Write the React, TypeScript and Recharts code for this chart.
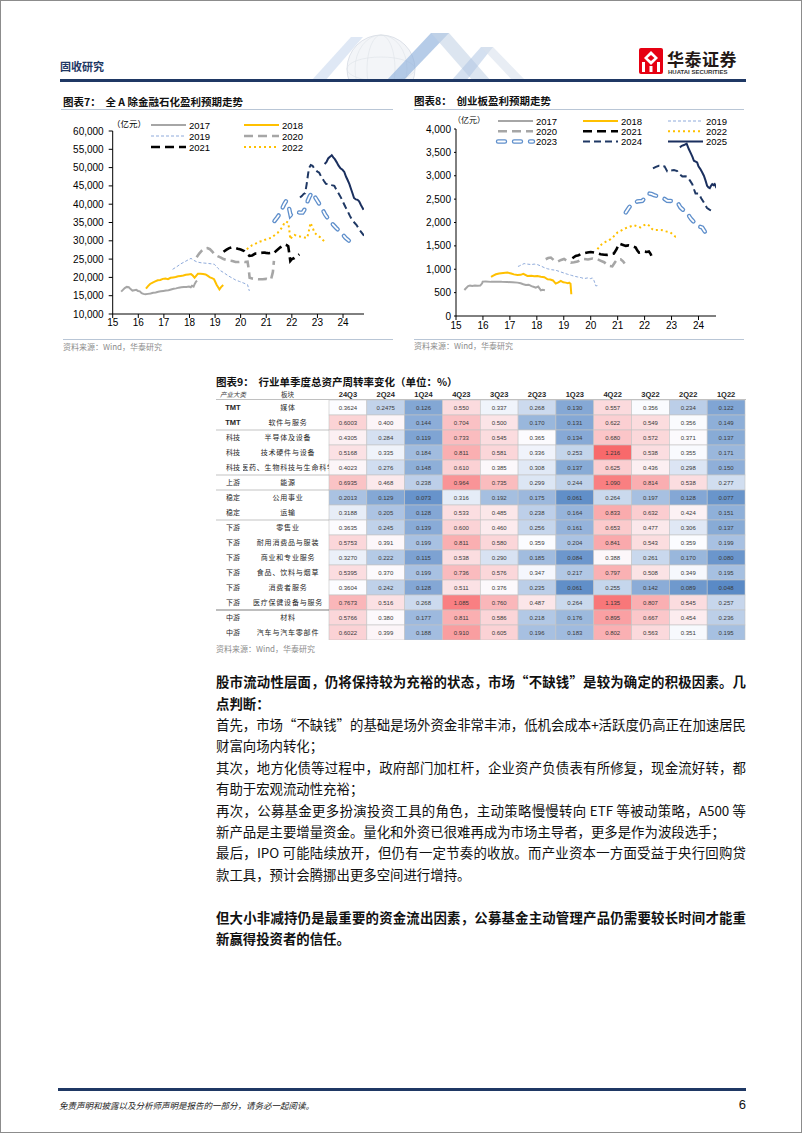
import React from 'react';
import { LineChart, Line, XAxis, YAxis, BarChart, Bar } from 'recharts';

const CJK = '"Noto Sans CJK SC", sans-serif';
const LAT = '"Liberation Sans", Arial, sans-serif';

type Pt = [number, number];

// ---- 图表7 全A除金融石化 (亿元), x = 年份(15 = 2015)
const yearTicks = [15, 16, 17, 18, 19, 20, 21, 22, 23, 24];
const ticks7 = [10000, 15000, 20000, 25000, 30000, 35000, 40000, 45000, 50000, 55000, 60000];
const a17_7: Pt[] = [[15.33,16100],[15.4,16600],[15.47,17100],[15.55,17400],[15.63,17300],[15.7,16800],[15.77,16400],[15.84,16500],[15.92,16600],[15.99,16300],[16.06,16200],[16.13,15700],[16.2,15500],[16.28,15400],[16.38,15500],[16.48,15600],[16.58,15800],[16.68,15900],[16.78,16100],[16.88,16200],[16.98,16300],[17.08,16400],[17.18,16500],[17.28,16700],[17.38,16900],[17.48,17000],[17.58,17200],[17.68,17300],[17.78,17400],[17.88,17400],[17.98,17500],[18.05,17300],[18.1,17700],[18.16,17500],[18.21,18300],[18.26,18900],[18.3,19100]];
const a18_7: Pt[] = [[16.3,16900],[16.38,17600],[16.46,18200],[16.56,18600],[16.66,18900],[16.76,19200],[16.86,19300],[16.96,19600],[17.06,19700],[17.16,19500],[17.26,19900],[17.36,20000],[17.46,20100],[17.56,20300],[17.66,20400],[17.76,20500],[17.86,20700],[17.96,20800],[18.06,20900],[18.13,20500],[18.2,19900],[18.26,20400],[18.33,21000],[18.43,21000],[18.53,20900],[18.63,20800],[18.72,20400],[18.8,20000],[18.88,19800],[18.96,19500],[19.02,18600],[19.06,18000],[19.12,17300],[19.17,16700],[19.22,17200],[19.27,17600],[19.32,17900]];
const a19_7: Pt[] = [[17.34,22200],[17.5,22900],[17.66,23700],[17.82,24300],[17.95,24800],[18.06,25200],[18.16,24700],[18.3,24200],[18.45,24000],[18.6,23900],[18.75,23800],[18.97,23600],[19.1,22600],[19.22,21800],[19.36,21200],[19.5,20500],[19.65,19900],[19.8,19300],[19.95,18900],[20.1,18500],[20.27,18000],[20.31,17000],[20.34,16300]];
const a20_7: Pt[] = [[18.28,25500],[18.38,26500],[18.48,27300],[18.58,27900],[18.7,28000],[18.8,27700],[18.9,27000],[18.97,26300],[19.1,25800],[19.23,25400],[19.33,25000],[19.43,24800],[19.55,24600],[19.68,24500],[19.8,24200],[19.94,24200],[20.06,24300],[20.16,24200],[20.27,24300],[20.32,22000],[20.35,19900],[20.45,19700],[20.55,19600],[20.7,19500],[20.86,19500],[21.0,19600],[21.1,19400],[21.19,19500],[21.26,21500],[21.3,24500]];
const a21_7: Pt[] = [[19.33,27000],[19.45,27600],[19.55,28000],[19.65,28200],[19.75,28100],[19.89,27800],[20.0,27600],[20.14,27200],[20.24,26600],[20.34,25900],[20.45,26000],[20.57,26500],[20.67,26500],[20.8,26700],[20.92,26800],[20.99,26700],[21.1,26600],[21.2,26700],[21.26,26500],[21.35,27000],[21.45,27600],[21.55,28200],[21.65,28700],[21.73,29000],[21.8,28800],[21.86,28500],[21.9,26500],[21.94,24500],[22.0,25000],[22.1,25300],[22.2,25800],[22.29,26300]];
const a22_7: Pt[] = [[20.24,27700],[20.35,28300],[20.45,28800],[20.54,29000],[20.65,29500],[20.76,29800],[20.86,29900],[20.96,30300],[21.07,30600],[21.19,30800],[21.3,31400],[21.45,32200],[21.55,33000],[21.63,33800],[21.71,34900],[21.78,35300],[21.86,34900],[21.9,33000],[21.94,30400],[22.02,31200],[22.1,31600],[22.2,31300],[22.3,31200],[22.4,31000],[22.5,30900],[22.6,30800],[22.66,32500],[22.73,34900],[22.8,33800],[22.89,32200],[23.0,31500],[23.1,31000],[23.2,30300],[23.3,29700],[23.35,29500]];
const a23_7: Pt[] = [[21.32,35400],[21.42,36300],[21.51,37200],[21.6,38500],[21.7,40000],[21.78,40900],[21.85,40000],[21.9,38600],[21.95,37000],[22.02,37500],[22.1,37700],[22.2,37900],[22.3,37700],[22.42,37700],[22.52,38800],[22.62,40900],[22.7,42200],[22.79,43200],[22.9,42000],[23.0,40900],[23.08,40000],[23.18,38800],[23.3,37200],[23.4,36200],[23.47,35600],[23.6,34500],[23.72,33600],[23.86,32700],[23.98,31800],[24.1,30800],[24.25,29900],[24.32,30500]];
const a24_7: Pt[] = [[22.32,41800],[22.4,42300],[22.46,42800],[22.52,43000],[22.58,45500],[22.64,48500],[22.68,50000],[22.74,50700],[22.81,50500],[22.9,49500],[23.0,48900],[23.07,48600],[23.15,47500],[23.25,46400],[23.33,45600],[23.45,45500],[23.56,45200],[23.66,45000],[23.75,43800],[23.84,42800],[23.92,41800],[24.0,40600],[24.09,39300],[24.18,38100],[24.27,36800],[24.36,35600],[24.44,35000],[24.53,34300],[24.62,33200],[24.72,32300],[24.82,31400]];
const a25_7: Pt[] = [[23.28,51000],[23.35,51500],[23.42,52500],[23.5,53000],[23.56,53400],[23.62,52800],[23.68,52300],[23.75,51500],[23.82,50600],[23.9,49800],[23.98,49400],[24.05,48800],[24.12,47500],[24.18,46600],[24.25,45500],[24.32,44000],[24.38,42800],[24.43,41700],[24.5,41300],[24.57,41200],[24.63,40800],[24.7,39800],[24.76,39000],[24.8,38500]];

// ---- 图表8 创业板 (亿元)
const ticks8 = [0, 500, 1000, 1500, 2000, 2500, 3000, 3500, 4000];
const a17_8: Pt[] = [[15.31,557],[15.38,600],[15.45,640],[15.52,650],[15.6,640],[15.7,650],[15.8,645],[15.9,650],[15.97,700],[15.99,736],[16.1,740],[16.3,730],[16.5,735],[16.7,730],[16.9,728],[17.1,720],[17.28,714],[17.4,700],[17.5,680],[17.59,664],[17.7,670],[17.8,640],[17.9,620],[17.96,607],[18.05,630],[18.1,590],[18.15,550],[18.22,560],[18.3,550]];
const a18_8: Pt[] = [[16.3,836],[16.4,870],[16.48,893],[16.6,910],[16.75,920],[16.91,929],[17.05,910],[17.15,890],[17.28,879],[17.4,880],[17.5,900],[17.65,857],[17.8,860],[17.9,850],[18.02,857],[18.15,840],[18.28,830],[18.4,786],[18.5,780],[18.6,760],[18.7,693],[18.8,720],[18.89,750],[18.98,720],[19.07,714],[19.15,700],[19.2,714],[19.25,690],[19.28,465]];
const a19_8: Pt[] = [[17.3,1060],[17.35,1071],[17.45,1100],[17.53,1121],[17.65,1110],[17.8,1100],[17.9,1110],[18.02,1100],[18.15,1070],[18.27,1036],[18.4,1010],[18.55,990],[18.7,979],[18.85,950],[19.0,920],[19.14,893],[19.28,870],[19.4,850],[19.51,836],[19.65,820],[19.75,800],[19.88,814],[20.0,800],[20.06,814],[20.12,760],[20.19,643],[20.25,650]];
const a20_8: Pt[] = [[18.33,1214],[18.42,1240],[18.52,1250],[18.62,1200],[18.77,1164],[18.9,1200],[19.01,1221],[19.12,1180],[19.26,1143],[19.38,1150],[19.51,1164],[19.62,1200],[19.75,1221],[19.9,1210],[20.06,1229],[20.18,1210],[20.25,1214],[20.38,1180],[20.5,1150],[20.6,1100],[20.68,1071],[20.8,1060],[20.9,1150],[20.99,1214],[21.11,1214],[21.2,1170],[21.26,1121]];
const a21_8: Pt[] = [[19.32,1236],[19.44,1286],[19.55,1300],[19.63,1322],[19.75,1340],[19.88,1357],[20.0,1370],[20.12,1357],[20.25,1340],[20.37,1322],[20.5,1310],[20.62,1307],[20.75,1320],[20.86,1336],[20.96,1429],[21.05,1550],[21.15,1530],[21.3,1500],[21.4,1510],[21.48,1500],[21.6,1480],[21.67,1464],[21.73,1400],[21.79,1357],[21.9,1370],[21.98,1379],[22.08,1370],[22.16,1379],[22.22,1330],[22.29,1243]];
const a22_8: Pt[] = [[20.25,1429],[20.35,1500],[20.42,1540],[20.5,1571],[20.6,1600],[20.74,1643],[20.85,1700],[20.99,1786],[21.1,1820],[21.2,1850],[21.3,1879],[21.45,1910],[21.6,1943],[21.72,1920],[21.85,1893],[21.97,1940],[22.1,1964],[22.2,1920],[22.28,1860],[22.35,1836],[22.5,1840],[22.66,1836],[22.8,1810],[22.96,1786],[23.05,1740],[23.15,1693],[23.27,1690]];
const a23_8: Pt[] = [[21.3,2214],[21.42,2321],[21.55,2400],[21.73,2450],[21.91,2460],[22.02,2530],[22.16,2621],[22.25,2610],[22.35,2586],[22.5,2560],[22.66,2536],[22.84,2464],[23.0,2460],[23.15,2450],[23.25,2400],[23.33,2321],[23.45,2260],[23.58,2214],[23.66,2130],[23.73,2072],[23.85,2000],[23.95,1929],[24.05,1910],[24.14,1893],[24.22,1820],[24.3,1750]];
const a24_8: Pt[] = [[22.31,3157],[22.42,3190],[22.53,3214],[22.64,3210],[22.74,3200],[22.84,3093],[22.96,3110],[23.09,3121],[23.21,3100],[23.3,3030],[23.4,2986],[23.5,2990],[23.58,2980],[23.68,2900],[23.77,2821],[23.84,2700],[23.89,2621],[24.01,2620],[24.1,2520],[24.2,2429],[24.32,2307],[24.42,2270],[24.51,2250],[24.6,2260]];
const a25_8: Pt[] = [[23.31,3607],[23.38,3640],[23.46,3657],[23.56,3686],[23.64,3571],[23.73,3464],[23.78,3400],[23.83,3321],[23.95,3286],[24.0,3200],[24.07,3143],[24.14,3070],[24.2,3000],[24.26,2900],[24.32,2786],[24.37,2750],[24.42,2736],[24.47,2790],[24.51,2821],[24.56,2800],[24.6,2821],[24.67,2736]];

// ---- 图表9 行业单季度总资产周转率
const quarters = ['24Q3', '2Q24', '1Q24', '4Q23', '3Q23', '2Q23', '1Q23', '4Q22', '3Q22', '2Q22', '1Q22'];
const groups = ['TMT', 'TMT', '科技', '科技', '科技', '上游', '稳定', '稳定', '下游', '下游', '下游', '下游', '下游', '下游', '中游', '中游'];
const sectors = ['媒体', '软件与服务', '半导体及设备', '技术硬件与设备', '医药、生物科技与生命科学', '能源', '公用事业', '运输', '零售业', '耐用消费品与服装', '商业和专业服务', '食品、饮料与烟草', '消费者服务', '医疗保健设备与服务', '材料', '汽车与汽车零部件'];
const turnover: number[][] = [
  [0.3624, 0.2475, 0.126, 0.550, 0.337, 0.268, 0.130, 0.557, 0.356, 0.234, 0.122],
  [0.6003, 0.400, 0.144, 0.704, 0.500, 0.170, 0.131, 0.622, 0.549, 0.356, 0.149],
  [0.4305, 0.284, 0.119, 0.733, 0.545, 0.365, 0.134, 0.680, 0.572, 0.371, 0.137],
  [0.5168, 0.335, 0.184, 0.811, 0.581, 0.336, 0.253, 1.216, 0.538, 0.355, 0.171],
  [0.4023, 0.276, 0.148, 0.610, 0.385, 0.308, 0.137, 0.625, 0.436, 0.298, 0.150],
  [0.6935, 0.468, 0.238, 0.964, 0.735, 0.299, 0.244, 1.090, 0.814, 0.538, 0.277],
  [0.2013, 0.129, 0.073, 0.316, 0.192, 0.175, 0.061, 0.264, 0.197, 0.128, 0.077],
  [0.3188, 0.205, 0.128, 0.533, 0.485, 0.238, 0.164, 0.833, 0.632, 0.424, 0.151],
  [0.3635, 0.245, 0.139, 0.600, 0.460, 0.256, 0.161, 0.653, 0.477, 0.306, 0.137],
  [0.5753, 0.391, 0.199, 0.811, 0.580, 0.359, 0.204, 0.841, 0.543, 0.359, 0.199],
  [0.3270, 0.222, 0.115, 0.538, 0.290, 0.185, 0.084, 0.388, 0.261, 0.170, 0.080],
  [0.5395, 0.370, 0.199, 0.736, 0.576, 0.347, 0.217, 0.797, 0.508, 0.349, 0.195],
  [0.3604, 0.242, 0.128, 0.511, 0.376, 0.235, 0.061, 0.255, 0.142, 0.089, 0.048],
  [0.7673, 0.516, 0.268, 1.085, 0.760, 0.487, 0.264, 1.135, 0.807, 0.545, 0.257],
  [0.5766, 0.380, 0.177, 0.811, 0.586, 0.218, 0.176, 0.895, 0.667, 0.454, 0.236],
  [0.6022, 0.399, 0.188, 0.910, 0.605, 0.196, 0.183, 0.802, 0.563, 0.351, 0.195],
];

type Sty = { c: string; w: number; d?: string; pill?: boolean };
const STY: Record<string, Sty> = {
  '2017': { c: '#A6A6A6', w: 2 },
  '2018': { c: '#FFC000', w: 2 },
  '2019': { c: '#8EAADB', w: 1, d: '3 2' },
  '2020': { c: '#A6A6A6', w: 2.6, d: '9 5' },
  '2021': { c: '#000000', w: 2.6, d: '9 5' },
  '2022': { c: '#FFC000', w: 2, d: '2 3' },
  '2023': { c: '#5F8FCB', w: 4.4, d: '7 9', pill: true },
  '2024': { c: '#1F3864', w: 2, d: '7 4' },
  '2025': { c: '#1A2F5E', w: 2 },
};

const seriesLines = (name: string, pts: Pt[]) => {
  const s = STY[name];
  const data = pts.map(([x, y]) => ({ x, y }));
  const out = [
    <Line key={name} data={data} dataKey="y" type="linear" stroke={s.c} strokeWidth={s.w}
      strokeDasharray={s.d} strokeLinecap={s.pill ? 'round' : 'butt'} dot={false} isAnimationActive={false} />,
  ];
  if (s.pill) {
    out.push(
      <Line key={name + 'in'} data={data} dataKey="y" type="linear" stroke="#ffffff" strokeWidth={s.w - 2.6}
        strokeDasharray={s.d} strokeLinecap="round" dot={false} isAnimationActive={false} />
    );
  }
  return out;
};

const LegendItem = ({ name, x, y }: { name: string; x: number; y: number }) => {
  const s = STY[name];
  return (
    <g>
      <line x1={x} y1={y} x2={x + 35} y2={y} stroke={s.c} strokeWidth={s.w} strokeDasharray={s.d}
        strokeLinecap={s.pill ? 'round' : 'butt'} />
      {s.pill && <line x1={x} y1={y} x2={x + 35} y2={y} stroke="#fff" strokeWidth={s.w - 2.6}
        strokeDasharray={s.d} strokeLinecap="round" />}
      <text x={x + 38} y={y + 3.5} fontSize={9.5} fontFamily={LAT} fill="#000">{name}</text>
    </g>
  );
};

const fmtK = (v: number) => v.toLocaleString('en-US');
const axisTick = { fontSize: 10, fill: '#000', fontFamily: LAT };

// heat colour: blue - white - red
const LO = 0.048, MID = 0.36, HI = 1.216;
const mix = (a: number[], b: number[], t: number) =>
  `rgb(${a.map((v, i) => Math.round(v + (b[i] - v) * t)).join(',')})`;
const heat = (v: number) => {
  const blue = [90, 138, 198], white = [252, 252, 255], red = [248, 105, 107];
  if (v <= MID) return mix(white, blue, Math.min(1, (MID - v) / (MID - LO)));
  return mix(white, red, Math.min(1, (v - MID) / (HI - MID)));
};
const fmtCell = (v: number, c: number) => {
  const dec = (String(v).split('.')[1] || '').length;
  return c === 0 || dec > 3 ? v.toFixed(4) : v.toFixed(3);
};

const ROW_H = 15;
const tableRows = sectors.map((s, r) => {
  const row: Record<string, any> = { sector: s, row: r };
  quarters.forEach((q) => { row[q] = 1; });
  return row;
});

const QuarterTick = (p: any) => (
  <text x={p.x} y={8.5} textAnchor="middle" fontSize={7.5} fontWeight={700} fontFamily={LAT} fill="#262626">
    {quarters[Math.floor(p.payload.value)]}
  </text>
);

const RowTick = (p: any) => {
  const r = sectors.indexOf(p.payload.value);
  const y = p.y;
  const newGroup = r > 0 && groups[r] !== groups[r - 1];
  const isLat = /^[A-Z]+$/.test(groups[r]);
  return (
    <g>
      {newGroup && (
        <line x1={0} x2={113} y1={y - ROW_H / 2} y2={y - ROW_H / 2}
          stroke={groups[r] === '中游' ? '#7f7f7f' : '#b4b4b4'} strokeWidth={groups[r] === '中游' ? 1.2 : 0.8} />
      )}
      <text x={17} y={y + 2.5} textAnchor="middle" fontSize={isLat ? 7.5 : 7} fontWeight={isLat ? 700 : 400}
        fontFamily={isLat ? LAT : CJK} fill="#262626">{groups[r]}</text>
      <clipPath id={`sc${r}`}><rect x={27} y={y - 8} width={86} height={16} /></clipPath>
      <text x={72} y={y + 2.5} textAnchor="middle" fontSize={7} fontFamily={CJK} fill="#262626"
        letterSpacing={0.8} clipPath={`url(#sc${r})`}>{sectors[r]}</text>
    </g>
  );
};

const heatShape = (c: number) => (p: any) => {
  const v = turnover[p.payload.row][c];
  return (
    <g>
      <rect x={p.x} y={p.y} width={p.width} height={p.height} fill={heat(v)} stroke="#c4c4c4" strokeWidth={0.6} />
      <text x={p.x + p.width / 2} y={p.y + p.height / 2 + 2.2} textAnchor="middle" fontSize={6}
        fontFamily={LAT} fill="#3a3a3a">{fmtCell(v, c)}</text>
    </g>
  );
};

const abs = (left: number, top: number, extra: React.CSSProperties = {}): React.CSSProperties => ({
  position: 'absolute', left, top, ...extra,
});

const bodyLines: { t: string; b: boolean; j: boolean }[] = [
  { t: '股市流动性层面，仍将保持较为充裕的状态，市场“不缺钱”是较为确定的积极因素。几', b: true, j: true },
  { t: '点判断：', b: true, j: false },
  { t: '首先，市场“不缺钱”的基础是场外资金非常丰沛，低机会成本+活跃度仍高正在加速居民', b: false, j: true },
  { t: '财富向场内转化；', b: false, j: false },
  { t: '其次，地方化债等过程中，政府部门加杠杆，企业资产负债表有所修复，现金流好转，都', b: false, j: true },
  { t: '有助于宏观流动性充裕；', b: false, j: false },
  { t: '再次，公募基金更多扮演投资工具的角色，主动策略慢慢转向 ETF 等被动策略，A500 等', b: false, j: true },
  { t: '新产品是主要增量资金。量化和外资已很难再成为市场主导者，更多是作为波段选手；', b: false, j: false },
  { t: '最后，IPO 可能陆续放开，但仍有一定节奏的收放。而产业资本一方面受益于央行回购贷', b: false, j: true },
  { t: '款工具，预计会腾挪出更多空间进行增持。', b: false, j: false },
  { t: '', b: false, j: false },
  { t: '但大小非减持仍是最重要的资金流出因素，公募基金主动管理产品仍需要较长时间才能重', b: true, j: true },
  { t: '新赢得投资者的信任。', b: true, j: false },
];

const title: React.CSSProperties = { fontFamily: CJK, fontSize: 10.5, fontWeight: 700, color: '#111', whiteSpace: 'pre', lineHeight: '12px' };
const source: React.CSSProperties = { fontFamily: CJK, fontSize: 8, color: '#8c8c8c', whiteSpace: 'pre', lineHeight: '10px' };

export default function App() {
  return (
    <div style={{ position: 'absolute', left: 0, top: 0, width: 800, height: 1131, background: '#fff', border: '1px solid #8c8c8c', overflow: 'hidden' }}>
      {/* header */}
      <svg style={abs(290, 28)} width={240} height={52}>
        <circle cx={90} cy={40} r={34} fill="#f3f5f8" stroke="#d5dbe3" strokeWidth={0.8} />
        <ellipse cx={90} cy={40} rx={34} ry={12} fill="none" stroke="#dde2e8" strokeWidth={0.6} />
        <ellipse cx={90} cy={40} rx={14} ry={34} fill="none" stroke="#dde2e8" strokeWidth={0.6} />
        <ellipse cx={90} cy={40} rx={26} ry={34} fill="none" stroke="#dde2e8" strokeWidth={0.6} />
        <polygon points="20,52 60,8 72,8 34,52" fill="#c9d9ee" opacity={0.6} />
        <polygon points="95,52 140,4 158,4 112,52" fill="#8fb0dc" opacity={0.65} />
        <polygon points="140,4 158,4 200,52 182,52" fill="#c4d3e6" opacity={0.6} />
        <polygon points="160,52 190,18 202,18 175,52" fill="#a9c1e2" opacity={0.5} />
        <polygon points="190,18 202,18 235,52 222,52" fill="#d8e1ec" opacity={0.6} />
      </svg>
      <div style={abs(59, 58, { fontFamily: CJK, fontSize: 11, fontWeight: 700, color: '#1F3864', lineHeight: '14px' })}>固收研究</div>
      <svg style={abs(638, 47)} width={26} height={27}>
        <rect x={0} y={0} width={24} height={26} rx={2} fill="#E60012" />
        <polygon points="12,3 19,10 12,17 5,10" fill="#fff" />
        <polygon points="12,7 15.5,10 12,13 8.5,10" fill="#E60012" />
        <rect x={3} y={14} width={3} height={10} fill="#fff" />
        <rect x={18} y={14} width={3} height={10} fill="#fff" />
        <rect x={10.5} y={18} width={3} height={6} fill="#fff" />
      </svg>
      <div style={abs(666, 48, { fontFamily: CJK, fontSize: 17, fontWeight: 700, color: '#231815', lineHeight: '20px', letterSpacing: 0.5 })}>华泰证券</div>
      <div style={abs(667, 67, { fontFamily: LAT, fontSize: 6, fontWeight: 700, color: '#333', lineHeight: '8px' })}>HUATAI SECURITIES</div>
      <div style={abs(59, 78, { width: 686, height: 3, background: '#1F3864' })} />

      {/* chart 7 */}
      <div style={abs(62, 95, title)}>图表7：  全 A 除金融石化盈利预期走势</div>
      <div style={abs(60, 108, { width: 332, height: 1, background: '#b9c6d6' })} />
      <div style={abs(40, 110)}>
        <LineChart width={340} height={223} margin={{ top: 20, right: 17, left: 0, bottom: 0 }}>
          <XAxis dataKey="x" type="number" domain={[15, 24.82]} ticks={yearTicks} allowDataOverflow
            height={20} tickSize={4} tickMargin={1} tick={axisTick} stroke="#000" />
          <YAxis type="number" domain={[10000, 60000]} ticks={ticks7} tickFormatter={fmtK} allowDataOverflow
            width={71.7} tickSize={4} tickMargin={5} tick={axisTick} stroke="#000" />
          {seriesLines('2017', a17_7)}
          {seriesLines('2018', a18_7)}
          {seriesLines('2019', a19_7)}
          {seriesLines('2020', a20_7)}
          {seriesLines('2021', a21_7)}
          {seriesLines('2022', a22_7)}
          {seriesLines('2023', a23_7)}
          {seriesLines('2024', a24_7)}
          {seriesLines('2025', a25_7)}
        </LineChart>
      </div>
      <div style={abs(62, 338, { width: 330, height: 1, background: '#b9c6d6' })} />
      <div style={abs(62, 341, source)}>资料来源：Wind，华泰研究</div>

      {/* chart 8 */}
      <div style={abs(413, 94, title)}>图表8：  创业板盈利预期走势</div>
      <div style={abs(413, 108, { width: 330, height: 1, background: '#b9c6d6' })} />
      <div style={abs(400, 108)}>
        <LineChart width={330} height={227} margin={{ top: 20, right: 15, left: 0, bottom: 0 }}>
          <XAxis dataKey="x" type="number" domain={[15, 24.65]} ticks={yearTicks} allowDataOverflow
            height={20} tickSize={4} tickMargin={2} tick={axisTick} stroke="#000" />
          <YAxis type="number" domain={[0, 4000]} ticks={ticks8} tickFormatter={fmtK} allowDataOverflow
            width={55} tickSize={2} tickMargin={3} tick={axisTick} stroke="#000" />
          {seriesLines('2017', a17_8)}
          {seriesLines('2018', a18_8)}
          {seriesLines('2019', a19_8)}
          {seriesLines('2020', a20_8)}
          {seriesLines('2021', a21_8)}
          {seriesLines('2022', a22_8)}
          {seriesLines('2023', a23_8)}
          {seriesLines('2024', a24_8)}
          {seriesLines('2025', a25_8)}
        </LineChart>
      </div>
      <div style={abs(413, 338, { width: 330, height: 1, background: '#b9c6d6' })} />
      <div style={abs(413, 340, source)}>资料来源：Wind，华泰研究</div>

      {/* legends */}
      <svg style={abs(0, 0, { pointerEvents: 'none' })} width={802} height={160}>
        <text x={111} y={126} fontSize={8.5} fontFamily={CJK} fill="#000">（亿元）</text>
        <LegendItem name="2017" x={150} y={124} />
        <LegendItem name="2018" x={243} y={124} />
        <LegendItem name="2019" x={150} y={135} />
        <LegendItem name="2020" x={243} y={135} />
        <LegendItem name="2021" x={150} y={146} />
        <LegendItem name="2022" x={243} y={146} />
        <text x={452} y={121.5} fontSize={8} fontFamily={CJK} fill="#000">（亿元）</text>
        <LegendItem name="2017" x={497} y={120} />
        <LegendItem name="2018" x={582} y={120} />
        <LegendItem name="2019" x={667} y={120} />
        <LegendItem name="2020" x={497} y={130.3} />
        <LegendItem name="2021" x={582} y={130.3} />
        <LegendItem name="2022" x={667} y={130.3} />
        <LegendItem name="2023" x={497} y={140.5} />
        <LegendItem name="2024" x={582} y={140.5} />
        <LegendItem name="2025" x={667} y={140.5} />
      </svg>

      {/* chart 9 heat table */}
      <div style={abs(215, 375, title)}>图表9：  行业单季度总资产周转率变化（单位：%）</div>
      <div style={abs(219, 389, { fontFamily: CJK, fontSize: 6.5, fontStyle: 'italic', color: '#333', lineHeight: '8px' })}>产业大类</div>
      <div style={abs(280, 389, { fontFamily: CJK, fontSize: 6.5, color: '#333', lineHeight: '8px' })}>板块</div>
      <div style={abs(215, 398, { width: 530, height: 1, background: '#c0c0c0' })} />
      <div style={abs(215, 387)}>
        <BarChart layout="vertical" width={530} height={252} data={tableRows} barCategoryGap={0}
          margin={{ top: 0, right: 1, bottom: 0, left: 0 }}>
          <XAxis type="number" orientation="top" domain={[0, 11]} ticks={quarters.map((_, i) => i + 0.5)}
            height={12} axisLine={false} tickLine={false} tick={<QuarterTick />} />
          <YAxis type="category" dataKey="sector" width={113} axisLine={false} tickLine={false}
            tick={<RowTick />} interval={0} />
          {quarters.map((q, c) => (
            <Bar key={q} dataKey={q} stackId="heat" isAnimationActive={false} shape={heatShape(c)} />
          ))}
        </BarChart>
      </div>
      <div style={abs(215, 643, source)}>资料来源：Wind，华泰研究</div>

      {/* body text */}
      <div style={abs(215, 670.3, { width: 530 })}>
        {bodyLines.map((l, i) => (
          <div key={i} style={{
            height: 21.4, lineHeight: '21.4px', fontFamily: CJK, fontSize: 13.4,
            fontWeight: l.b ? 700 : 400, color: '#111',
            textAlign: 'justify', textAlignLast: l.j ? 'justify' : 'left',
          }}>{l.t}</div>
        ))}
      </div>

      {/* footer */}
      <div style={abs(57, 1087, { width: 688, height: 2.5, background: '#1F3864' })} />
      <div style={abs(58, 1098, { fontFamily: CJK, fontSize: 8.5, fontStyle: 'italic', color: '#222', lineHeight: '12px' })}>
        免责声明和披露以及分析师声明是报告的一部分，请务必一起阅读。
      </div>
      <div style={abs(700, 1096, { width: 45, textAlign: 'right', fontFamily: LAT, fontSize: 13, color: '#111', lineHeight: '16px' })}>6</div>
    </div>
  );
}
